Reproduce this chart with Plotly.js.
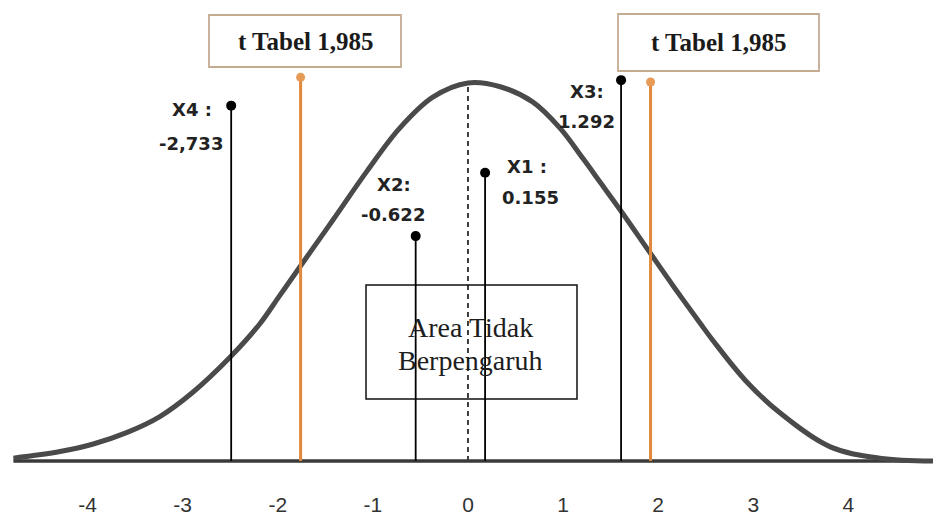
<!DOCTYPE html>
<html>
<head>
<meta charset="utf-8">
<script src="https://cdn.plot.ly/plotly-3.0.1.min.js"></script>
<style>html,body{margin:0;padding:0;background:#fff;}#chart{width:933px;height:519px;}</style>
</head>
<body>
<div id="chart"></div>
<script>
// ---- data ----
const curveX = [-4.78, -4.29, -3.94, -3.59, -3.24, -2.89, -2.50, -2.19, -1.98, -1.75, -1.42, -1.06, -0.72, -0.37, 0.00, 0.34, 0.68, 0.97, 1.21, 1.39, 1.62, 1.91, 2.16, 2.44, 2.58, 2.92, 3.28, 3.81, 4.33, 4.89];
const curveY = [0.003, 0.010, 0.018, 0.030, 0.047, 0.073, 0.110, 0.145, 0.175, 0.208, 0.255, 0.307, 0.352, 0.385, 0.400, 0.396, 0.380, 0.352, 0.320, 0.295, 0.263, 0.221, 0.185, 0.146, 0.127, 0.085, 0.051, 0.015, 0.003, 0.000];
const baselineX = [-4.78, 4.89];
const baselineY = [0, 0];
const varNames = ["X1 :", "X2:", "X3:", "X4 :"];
const varValueText = ["0.155", "-0.622", "1.292", "-2,733"];
const varX = [0.18, -0.55, 1.61, -2.49];
const varTop = [0.305, 0.238, 0.403, 0.376];
const tTableText = ["t Tabel 1,985", "t Tabel 1,985"];
const tTableX = [-1.76, 1.92];
const tTableTop = [0.406, 0.401];
const meanX = [0];
const meanTop = [0.398];
const areaLines = ["Area Tidak", "Berpengaruh"];
const tickVals = [-4, -3, -2, -1, 0, 1, 2, 3, 4];
const tickText = ["-4", "-3", "-2", "-1", "0", "1", "2", "3", "4"];

// ---- layout helpers (pixels -> paper) ----
const W = 933, PH = 482;
const px = x => x / W;
const py = y => 1 - y / PH;

function stems(xs, tops) {
  const x = [], y = [];
  xs.forEach((v, i) => { x.push(v, v, null); y.push(0, tops[i], null); });
  return {x, y};
}
const bs = stems(varX, varTop);
const os = stems(tTableX, tTableTop);

const traces = [
  {x: baselineX, y: baselineY, mode: 'lines', line: {color: '#3a3a3a', width: 3.5}, hoverinfo: 'skip'},
  {x: curveX, y: curveY, mode: 'lines', line: {color: '#4a4a4a', width: 5, shape: 'spline', smoothing: 1}, hoverinfo: 'skip'},
  {x: os.x, y: os.y, mode: 'lines', line: {color: '#E0883C', width: 3}, hoverinfo: 'skip'},
  {x: tTableX, y: tTableTop, mode: 'markers', marker: {color: '#E69A55', size: 9}, hoverinfo: 'skip'},
  {x: bs.x, y: bs.y, mode: 'lines', line: {color: '#000', width: 1.8}, hoverinfo: 'skip'},
  {x: varX, y: varTop, mode: 'markers', marker: {color: '#000', size: 10}, hoverinfo: 'skip'}
];

const labelFont = {family: 'DejaVu Sans', size: 18, color: '#222'};
// pixel centres of the two-line variable labels
const labelPos = [
  [[527, 166], [530, 197]],
  [[394, 184], [393, 214]],
  [[587, 91], [586, 121]],
  [[192, 110], [191, 143]]
];
const annotations = [];
varNames.forEach((n, i) => {
  annotations.push({xref: 'paper', yref: 'paper', x: px(labelPos[i][0][0]), y: py(labelPos[i][0][1]), text: '<b>' + n + '</b>', showarrow: false, xanchor: 'center', yanchor: 'middle', font: labelFont});
  annotations.push({xref: 'paper', yref: 'paper', x: px(labelPos[i][1][0]), y: py(labelPos[i][1][1]), text: '<b>' + varValueText[i] + '</b>', showarrow: false, xanchor: 'center', yanchor: 'middle', font: labelFont});
});
const tBoxes = [[209, 401, 15, 67], [618, 819, 14, 71]];
tTableText.forEach((t, i) => {
  const b = tBoxes[i];
  annotations.push({xref: 'paper', yref: 'paper', x: px((b[0] + b[1]) / 2), y: py((b[2] + b[3]) / 2), text: '<b>' + t + '</b>', showarrow: false, xanchor: 'center', yanchor: 'middle', font: {family: 'Liberation Serif', size: 25, color: '#1a1a1a'}});
});
const areaY = [327, 360];
areaLines.forEach((t, i) => {
  annotations.push({xref: 'paper', yref: 'paper', x: px(471), y: py(areaY[i]), text: t, showarrow: false, xanchor: 'center', yanchor: 'middle', font: {family: 'Liberation Serif', size: 28, color: '#1e1e1e'}});
});

const shapes = [
  {type: 'line', xref: 'x', yref: 'y', x0: meanX[0], x1: meanX[0], y0: 0, y1: meanTop[0], line: {color: '#000', width: 1.5, dash: '5px,4px'}, layer: 'below'},
  {type: 'rect', xref: 'paper', yref: 'paper', x0: px(366), x1: px(577), y0: py(399), y1: py(285), line: {color: '#111', width: 1.5}, fillcolor: '#fff', layer: 'below'}
];
tBoxes.forEach(b => shapes.push({type: 'rect', xref: 'paper', yref: 'paper', x0: px(b[0]), x1: px(b[1]), y0: py(b[3]), y1: py(b[2]), line: {color: '#C4AC92', width: 1.8}, fillcolor: '#fff', layer: 'above'}));

const layout = {
  width: 933, height: 519,
  margin: {l: 0, r: 0, t: 0, b: 37, pad: 0},
  paper_bgcolor: '#fff', plot_bgcolor: '#fff',
  showlegend: false,
  xaxis: {range: [-4.921, 4.890], showgrid: false, zeroline: false, showline: false, ticks: '', tickvals: tickVals, ticktext: tickText, tickfont: {family: 'Liberation Sans', size: 21, color: '#333'}, ticklabelstandoff: 8, fixedrange: true},
  yaxis: {range: [-0.0222, 0.4878], showgrid: false, zeroline: false, showline: false, showticklabels: false, ticks: '', fixedrange: true},
  annotations: annotations,
  shapes: shapes
};
Plotly.newPlot('chart', traces, layout, {displayModeBar: false, staticPlot: true});
</script>
</body>
</html>
